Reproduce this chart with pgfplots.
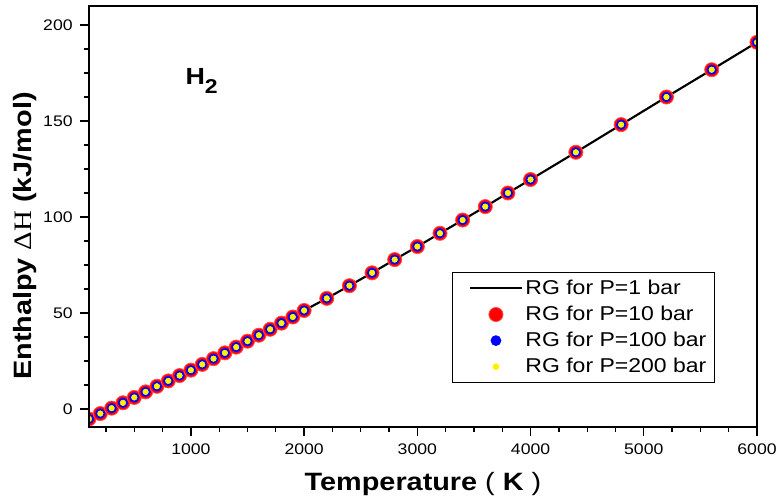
\documentclass[border=0pt]{standalone}
\usepackage{pgfplots}
\pgfplotsset{compat=1.18}
\usepackage{fontspec}
\setmainfont{Liberation Sans}[FakeStretch=1.15]
\newfontfamily\serifH{Liberation Serif}[FakeStretch=1.15]
\pgfplotstableread{
T H
100 -5.2
200 -2.4
300 0.4
400 3.2
500 6.0
600 8.9
700 11.8
800 14.6
900 17.4
1000 20.2
1100 23.2
1200 26.2
1300 29.2
1400 32.2
1500 35.3
1600 38.4
1700 41.5
1800 44.7
1900 47.9
2000 51.3
2200 57.6
2400 64.2
2600 70.9
2800 77.8
3000 84.6
3200 91.5
3400 98.4
3600 105.4
3800 112.5
4000 119.5
4400 133.7
4800 148.1
5200 162.5
5600 176.7
6000 191.0
}\datatable
\begin{document}
\begin{tikzpicture}
\begin{axis}[
  scale only axis,
  width=501pt, height=315.75pt,
  xmin=100, xmax=6000, ymin=-9.4, ymax=209.9,
  xtick={1000,2000,3000,4000,5000,6000},
  minor xtick={250,500,...,5750},
  ytick={0,50,100,150,200},
  minor ytick={12.5,25,...,200},
  xtick pos=bottom, ytick pos=left,
  tick align=outside,
  major tick length=6.75pt, minor tick length=3.75pt,
  every tick/.style={black, line width=1pt},
  axis line style={line width=1.3pt},
  /pgf/number format/assume math mode=true,
  /pgf/number format/1000 sep={},
  tick label style={font=\fontsize{11.5}{12}\selectfont},
  xticklabel style={yshift=-2pt},
  yticklabel style={xshift=-2pt},
  xlabel={Temperature {\mdseries(} K {\mdseries)}},
  xlabel style={font=\fontsize{18.8}{20}\selectfont\bfseries, at={([yshift=-47.3pt]axis description cs:0.5,0)}, anchor=base},
  ylabel={Enthalpy {\serifH\mdseries ΔH} (kJ/mol)},
  ylabel style={font=\fontsize{18.8}{20}\selectfont\bfseries, at={([xshift=-42.75pt]axis description cs:0,0.4537)}, anchor=base, rotate=0},
  clip marker paths=true,
  axis on top,
  legend style={at={(rel axis cs:0.937,0.369)}, anchor=north east, draw=black, line width=0.8pt,
    font=\fontsize{15}{16}\selectfont, row sep=3.2pt, inner xsep=4pt, inner ysep=4pt},
  legend cell align=left,
  legend image code/.code={\path (-0.3cm,0cm); \draw[mark repeat=2,mark phase=2,#1] plot coordinates {(0cm,0cm) (0.68cm,0cm) (1.36cm,0cm)};},
]
\addplot[black, line width=1.6pt, mark=none] table[x=T,y=H] {\datatable};
\addlegendentry{RG for P=1 bar}
\addplot[only marks, mark=*, mark size=5.3pt, mark options={fill=red, draw=red!70, line width=0.6pt}] table[x=T,y=H] {\datatable};
\addlegendentry{RG for P=10 bar}
\addplot[only marks, mark=*, mark size=3.6pt, mark options={fill=blue, draw=blue}] table[x=T,y=H] {\datatable};
\addlegendentry{RG for P=100 bar}
\addplot[only marks, mark=*, mark size=2.1pt, mark options={fill=yellow, draw=yellow}] table[x=T,y=H] {\datatable};
\addlegendentry{RG for P=200 bar}
\node[anchor=base west, font=\fontsize{17.5}{18}\selectfont\bfseries, inner sep=0pt] at (axis cs:950,169) {H\raisebox{-6.5pt}{\fontsize{15}{15}\selectfont 2}};
\end{axis}
\pgfresetboundingbox
\path[use as bounding box] ([xshift=-66.75pt,yshift=-56.25pt]current axis.south west) rectangle ([xshift=15.75pt,yshift=4.5pt]current axis.north east);
\end{tikzpicture}
\end{document}
